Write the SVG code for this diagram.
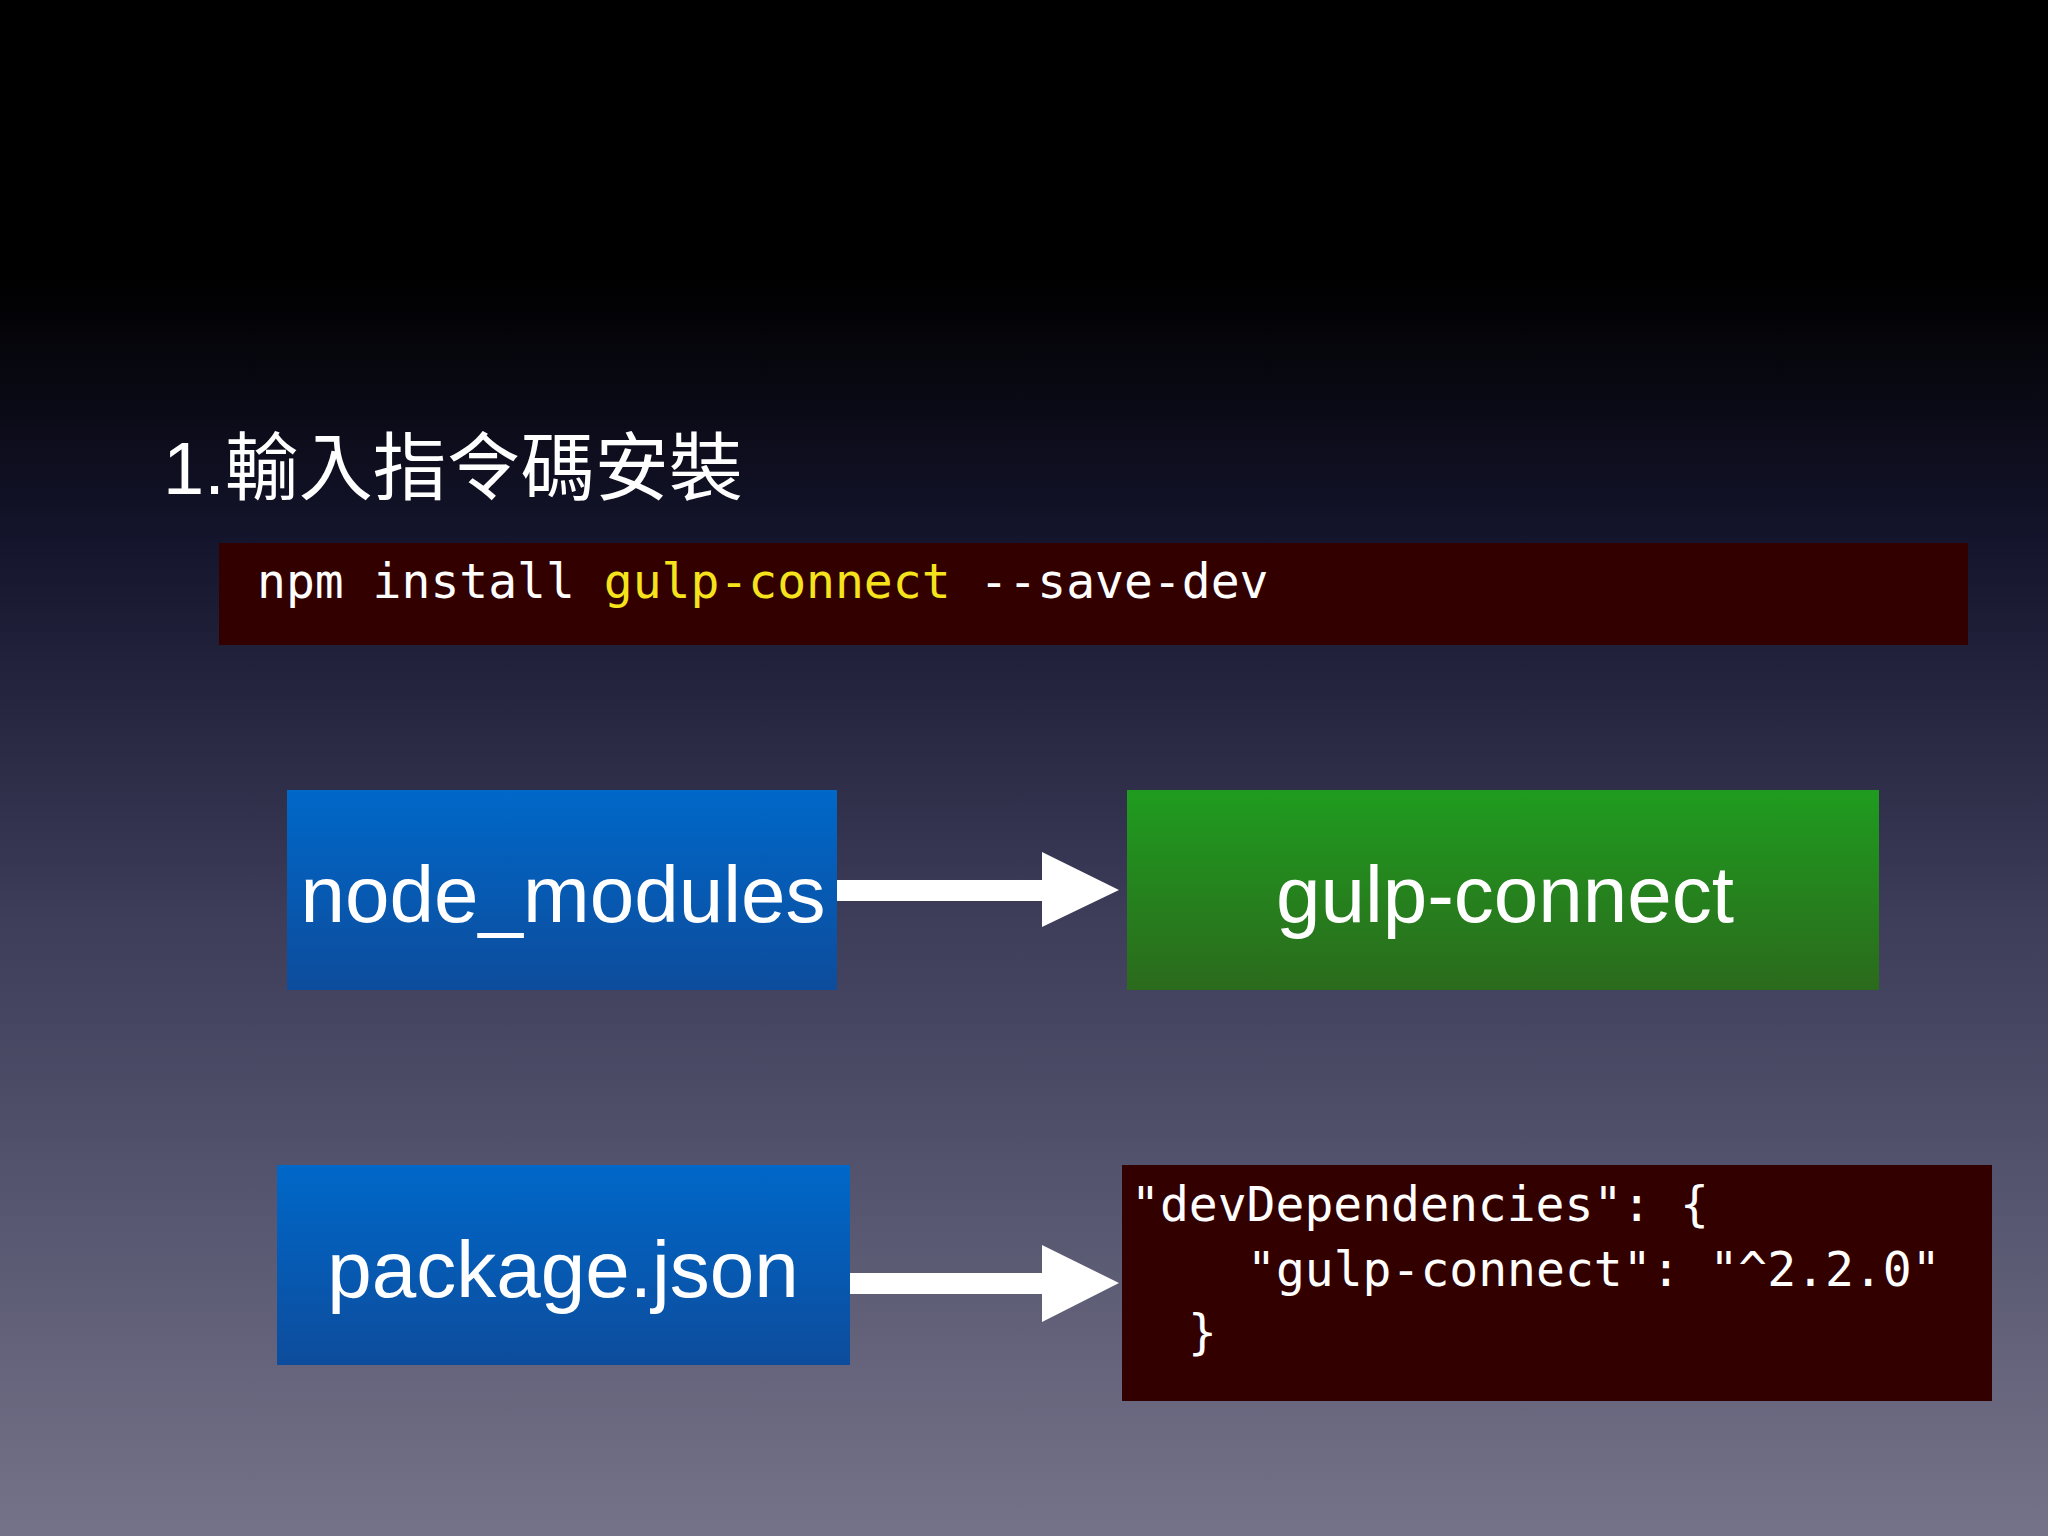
<svg xmlns="http://www.w3.org/2000/svg" width="2048" height="1536" viewBox="0 0 2048 1536">
<defs>
<linearGradient id="bg" x1="0" y1="0" x2="0" y2="1">
<stop offset="0" stop-color="#000000"/><stop offset="0.18" stop-color="#000000"/><stop offset="0.35" stop-color="#14142c"/><stop offset="0.6" stop-color="#3e3d5a"/><stop offset="1" stop-color="#747389"/>
</linearGradient>
<linearGradient id="blue" x1="0" y1="0" x2="0" y2="1"><stop offset="0" stop-color="#0068c9"/><stop offset="1" stop-color="#0d4c9c"/></linearGradient>
<linearGradient id="green" x1="0" y1="0" x2="0" y2="1"><stop offset="0" stop-color="#1f9c1f"/><stop offset="1" stop-color="#2b6a1c"/></linearGradient>
<style>
.mono{font-family:"DejaVu Sans Mono","Liberation Mono",monospace;font-size:48px;fill:#ffffff}
.lbl{font-family:"Liberation Sans","Noto Sans",sans-serif;font-size:80px;fill:#ffffff;text-anchor:middle}
.arrow{fill:#ffffff}
</style>
</defs>
<rect width="2048" height="1536" fill="url(#bg)"/>
<text x="163" y="494" font-family="'Liberation Sans','Noto Sans CJK TC',sans-serif" font-size="74" fill="#ffffff">1.輸入指令碼安裝</text>
<g id="command">
<rect x="219" y="543" width="1749" height="102" fill="#330000"/>
<text class="mono" x="257" y="598" xml:space="preserve">npm install <tspan fill="#f5e31c">gulp-connect</tspan> --save-dev</text>
</g>
<g id="node_modules">
<rect x="287" y="790" width="550" height="200" fill="url(#blue)"/>
<text class="lbl" x="563" y="922" textLength="525">node_modules</text>
</g>
<g id="gulp-connect">
<rect x="1127" y="790" width="752" height="200" fill="url(#green)"/>
<text class="lbl" x="1505" y="922">gulp-connect</text>
</g>
<g id="package_json">
<rect x="277" y="1165" width="573" height="200" fill="url(#blue)"/>
<text class="lbl" x="563" y="1297">package.json</text>
</g>
<g id="devDependencies">
<rect x="1122" y="1165" width="870" height="236" fill="#330000"/>
<text class="mono" x="1131" y="1221" xml:space="preserve">"devDependencies": {</text>
<text class="mono" x="1247" y="1286" xml:space="preserve">"gulp-connect": "^2.2.0"</text>
<text class="mono" x="1188" y="1349">}</text>
</g>
<g id="connectors">
<polygon class="arrow" points="837,880 1042,880 1042,852 1119,890 1042,927 1042,901 837,901"/>
<polygon class="arrow" points="850,1273 1042,1273 1042,1245 1119,1283 1042,1322 1042,1294 850,1294"/>
</g>
</svg>
